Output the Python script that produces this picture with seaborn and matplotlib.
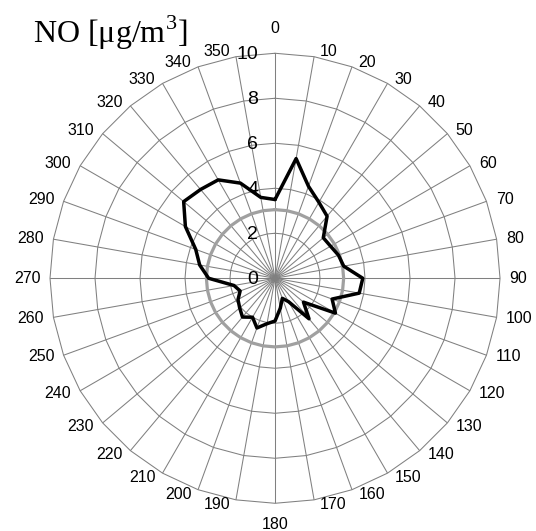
import numpy as np
import pandas as pd
import matplotlib
matplotlib.use("Agg")
import matplotlib.pyplot as plt
from matplotlib.transforms import offset_copy
import seaborn as sns

# ---- data ----
directions = list(range(0, 360, 10))
no_values = [3.5, 5.4, 4.35, 3.9, 3.6, 2.8, 2.85, 3.0, 3.1, 3.9, 3.8, 2.7,
             3.1, 1.65, 2.35, 1.2, 0.95, 1.35, 1.9, 2.05, 2.35, 2.0, 2.25, 2.05,
             1.9, 1.65, 1.85, 2.95, 3.4, 3.75, 4.6, 5.3, 5.15, 5.05, 4.5, 3.65]
mean_value = 3.05
radial_ticks = [0, 2, 4, 6, 8, 10]
angle_labels = [str(d) for d in directions]
title = "NO [μg/m$^{\\mathrm{3}}$]"

sns.set_theme(style="white")
plt.rcParams['font.family'] = ['Liberation Sans', 'DejaVu Sans']
plt.rcParams['text.color'] = 'black'
plt.rcParams['mathtext.fontset'] = 'custom'
plt.rcParams['mathtext.rm'] = 'Liberation Serif'

fig = plt.figure(figsize=(5.36, 5.31), dpi=100)
ax = fig.add_axes([0.0933, 0.0522, 0.8396, 0.8475], projection='polar')
ax.set_theta_zero_location('N')
ax.set_theta_direction(-1)
ax.set_ylim(0, 10)

grid_color = '#808080'
theta = np.deg2rad(directions)
ax.set_xticks(theta)
ax.set_xticklabels([])
ax.set_yticks(radial_ticks)
ax.set_yticklabels([])
ax.xaxis.grid(True, color=grid_color, linewidth=0.75)
ax.yaxis.grid(False)
ax.spines['polar'].set_visible(False)
ax.tick_params(axis='both', length=0)

# polygonal rings
theta_closed = np.append(theta, theta[0] + 2 * np.pi)
for rv in radial_ticks[1:]:
    ax.plot(theta_closed, [rv] * len(theta_closed), color=grid_color,
            linewidth=0.75, zorder=1, clip_on=False)

# radial labels
for rv in radial_ticks:
    tr = offset_copy(ax.transData, fig=fig, x=-17, y=-1, units='dots')
    ax.text(0, rv, str(rv), transform=tr, ha='right', va='center',
            fontsize=14, color='black', zorder=2)

# angle labels
for d, lab in zip(directions, angle_labels):
    t = np.deg2rad(d)
    s, c = np.sin(t), np.cos(t)
    if d == 0:
        tr = offset_copy(ax.transData, fig=fig, x=0, y=17, units='dots')
        ha, va = 'center', 'bottom'
    elif d == 180:
        tr = offset_copy(ax.transData, fig=fig, x=0, y=-14, units='dots')
        ha, va = 'center', 'top'
    else:
        dx = np.sign(s) * (5 + 4.5 * abs(s))
        dy = 5 * c
        tr = offset_copy(ax.transData, fig=fig, x=dx, y=dy, units='dots')
        ha = 'left' if s > 0 else 'right'
        va = 'center'
    ax.text(t, 10, lab, transform=tr, ha=ha, va=va, fontsize=11.5,
            color='black', clip_on=False)

# mean ring
ax.plot(theta_closed, [mean_value] * len(theta_closed), color='#a0a0a0',
        linewidth=2.3, zorder=3)

# data line
df = pd.DataFrame({'theta': theta_closed,
                   'value': no_values + [no_values[0]]})
sns.lineplot(data=df, x='theta', y='value', ax=ax, sort=False,
             estimator=None, color='black', linewidth=2.5, zorder=4)
ax.set_xlabel('')
ax.set_ylabel('')

fig.text(33 / 536, 1 - 43 / 531, title, ha='left', va='baseline',
         fontsize=23, family='Liberation Serif', color='black')

fig.savefig('out.png', dpi=100)
